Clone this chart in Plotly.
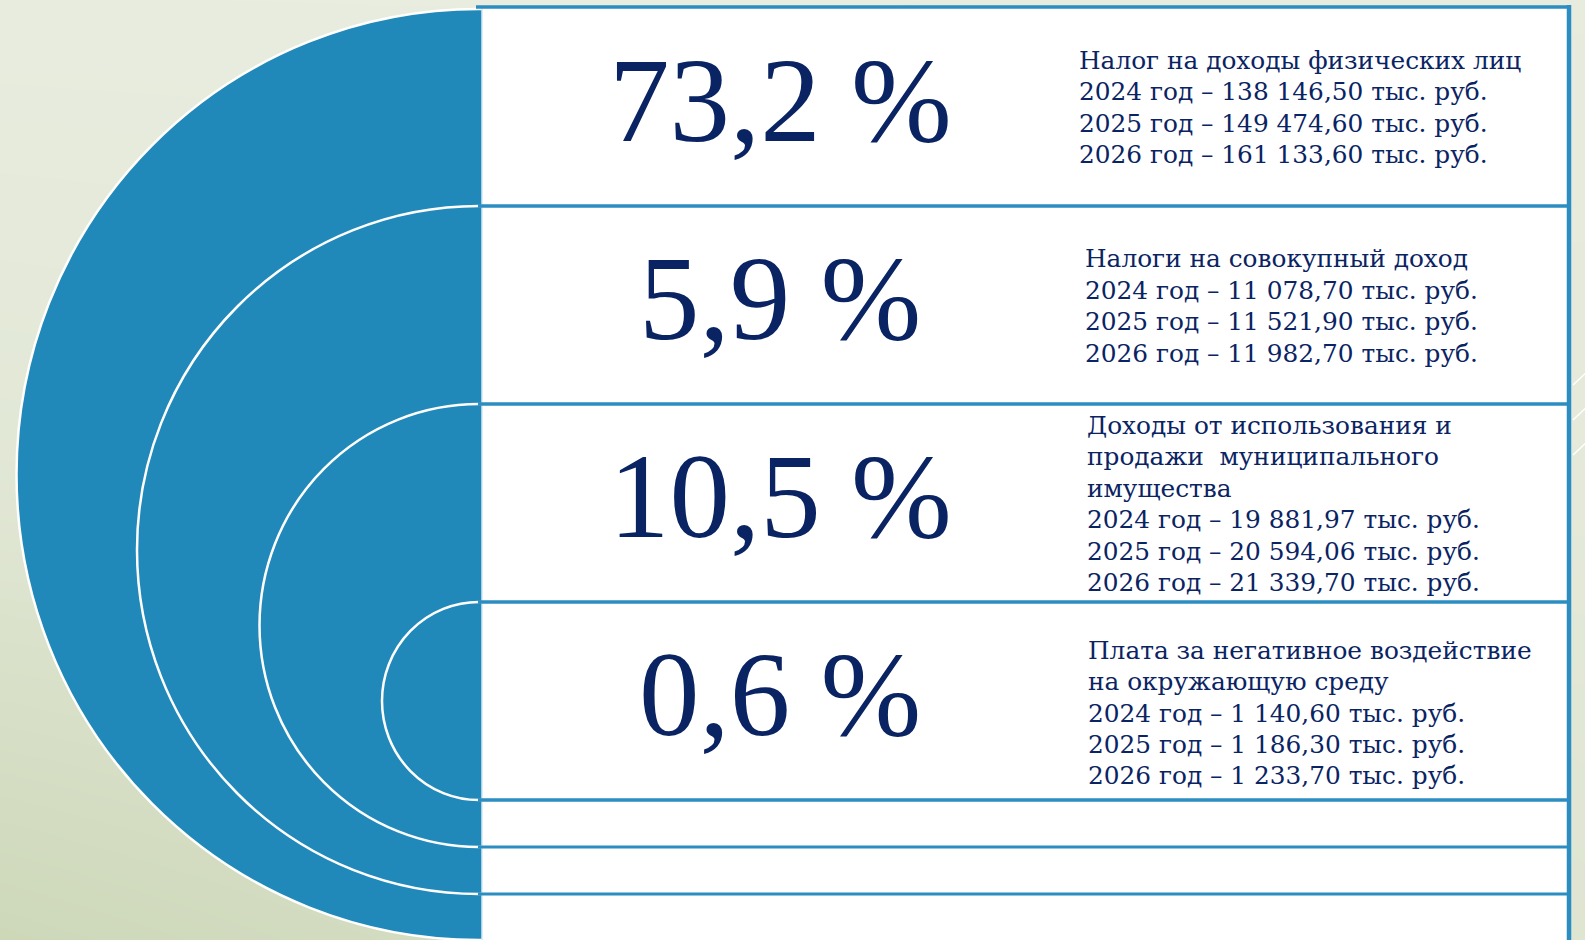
import plotly.graph_objects as go

# shares of each revenue source, %
shares = ["73,2", "5,9", "10,5", "0,6"]

categories = [
    "Налог на доходы физических лиц",
    "Налоги на совокупный доход",
    "Доходы от использования и<br>продажи\u00a0 муниципального<br>имущества",
    "Плата за негативное воздействие<br>на окружающую среду",
]

years = ["2024", "2025", "2026"]

# тыс. руб. by year
values_2024 = [138146.50, 11078.70, 19881.97, 1140.60]
values_2025 = [149474.60, 11521.90, 20594.06, 1186.30]
values_2026 = [161133.60, 11982.70, 21339.70, 1233.70]

W, H = 1585, 940
BLUE = "#2189BA"
EDGE = "#2B8DC1"
NAVY = "#0A2463"

# layout: row lines of the table, arc centre
rows = [7, 206, 404, 602, 800, 847, 894, 946]
box_x0, box_x1 = 482, 1569
arc_cx = 479
text_x = [1077, 1083, 1085, 1086]
text_dy = [0, 0, 0, 11]
pitch = 31.4


def rub(v):
    s = f"{v:,.2f}"
    return s.replace(",", " ").replace(".", ",")


fig = go.Figure()

# soft background gradient
fig.add_trace(go.Heatmap(
    x=[-50, 800, 1650], y=[-50, 470, 1000],
    z=[[0.0, 0.0, 0.05], [0.25, 0.15, 0.15], [1.0, 0.6, 0.35]],
    zsmooth="best", showscale=False, hoverinfo="skip",
    colorscale=[[0, "#E9EDE0"], [1, "#CAD5B4"]], zmin=0, zmax=1,
))

shapes = []
# blue half disc with white outline
top, bot = rows[0] + 2, 940
r = (bot - top) / 2
shapes.append(dict(type="circle", x0=arc_cx - r + 3, x1=arc_cx + r - 3, y0=top, y1=bot,
                   fillcolor=BLUE, line=dict(color="white", width=2.5), layer="above"))
# inner arcs
for t, b in [(rows[1], rows[6]), (rows[2], rows[5]), (rows[3], rows[4])]:
    r = (b - t) / 2
    shapes.append(dict(type="circle", x0=arc_cx - r + 2, x1=arc_cx + r - 2, y0=t, y1=b,
                       fillcolor="rgba(0,0,0,0)", line=dict(color="white", width=2.5),
                       layer="above"))
# table
shapes.append(dict(type="rect", x0=box_x0, x1=box_x1, y0=rows[0], y1=rows[-1],
                   fillcolor="white", line=dict(width=0), layer="above"))
shapes.append(dict(type="line", x0=box_x0, x1=box_x0, y0=rows[0], y1=rows[-1],
                   line=dict(color="#D6EAF4", width=1.5), layer="above"))
shapes.append(dict(type="line", x0=box_x1, x1=box_x1, y0=rows[0] - 2, y1=rows[-1],
                   line=dict(color=EDGE, width=4.5), layer="above"))
for i, y in enumerate(rows[:-1]):
    shapes.append(dict(type="line", x0=box_x0 - 4 if i else box_x0 - 6, x1=box_x1 + 2,
                       y0=y, y1=y, line=dict(color=EDGE, width=3.5 if i < 5 else 3),
                       layer="above"))
# little white strokes on the right edge
for y in [385, 420, 455]:
    shapes.append(dict(type="line", x0=1573, x1=1590, y0=y, y1=y - 16,
                       line=dict(color="white", width=1.5), layer="above"))

annotations = []
for i, s in enumerate(shares):
    yc = (rows[i] + rows[i + 1]) / 2
    annotations.append(dict(x=780, y=yc - 7, text=f"{s} %", showarrow=False,
                            xanchor="center", yanchor="middle",
                            font=dict(family="Liberation Serif", size=121, color=NAVY)))
    lines = categories[i].split("<br>") + [
        f"{y} год – {rub(v)} тыс. руб."
        for y, v in zip(years, [values_2024[i], values_2025[i], values_2026[i]])
    ]
    n = len(lines)
    for k, ln in enumerate(lines):
        annotations.append(dict(x=text_x[i], y=yc + 1 + text_dy[i] + (k - (n - 1) / 2) * pitch,
                                text=ln, showarrow=False, xanchor="left", yanchor="middle",
                                align="left",
                                font=dict(family="DejaVu Serif", size=24.8, color=NAVY)))

fig.update_layout(
    width=W, height=H, margin=dict(l=0, r=0, t=0, b=0),
    paper_bgcolor="#E9EDE0", plot_bgcolor="#E9EDE0",
    xaxis=dict(range=[0, W], visible=False, fixedrange=True),
    yaxis=dict(range=[H, 0], visible=False, fixedrange=True),
    shapes=shapes, annotations=annotations, showlegend=False,
)

fig.write_html("out.html", config={"displayModeBar": False},
               post_script="document.body.style.margin='0';document.body.style.overflow='hidden';")
